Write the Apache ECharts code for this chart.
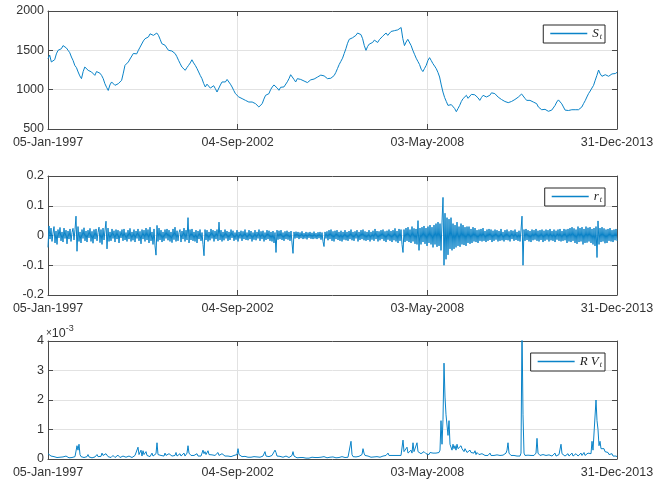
<!DOCTYPE html>
<html>
<head>
<meta charset="utf-8">
<script src="https://cdn.jsdelivr.net/npm/echarts@6/dist/echarts.min.js"></script>
<style>html,body{margin:0;padding:0;background:#fff;}#c{width:668px;height:483px;}</style>
</head>
<body>
<div id="c"></div>
<script>
// x axis: days since 05-Jan-1997 ; ticks every 2068 days
var xTickLabels = ['05-Jan-1997', '04-Sep-2002', '03-May-2008', '31-Dec-2013'];
var spanDays = 6204;

// S_t : price level, evenly spaced samples across the whole span
var priceVals = [
1394,1440,1352,1330,1381,1455,1500,1490,1521,1560,1551,1530,1500,1470,1415,1370,1309,1280,1225,1175,1140,1230,1288,1270,1246,1260,1225,1200,1182,1230,1254,1210,1182,1140,1076,1030,990,1060,1098,1080,
1055,1080,1076,1095,1119,1210,1309,1320,1352,1390,1415,1460,1479,1455,1500,1540,1564,1620,1648,1630,1670,1710,1725,1690,1670,1720,1691,1640,1585,1600,1564,1530,1500,1520,1492,1470,1458,1420,1373,1330,
1288,1270,1246,1280,1309,1340,1380,1340,1309,1270,1225,1180,1140,1080,1034,1070,1055,1020,1034,1050,1013,970,949,1060,1098,1075,1098,1130,1119,1070,1034,990,949,930,907,910,886,870,864,880,
843,860,843,835,822,800,780,800,822,880,928,920,949,1000,1034,1060,1076,1020,992,1030,1055,1035,1055,1100,1140,1190,1212,1130,1098,1140,1161,1130,1140,1110,1119,1090,1098,1125,1119,1135,
1140,1160,1170,1185,1195,1175,1161,1140,1127,1145,1155,1180,1220,1270,1320,1360,1400,1460,1520,1590,1640,1620,1660,1680,1690,1720,1745,1700,1648,1560,1500,1550,1580,1560,1600,1630,1620,1600,1635,1660,
1680,1700,1720,1690,1710,1740,1730,1750,1765,1760,1780,1790,1650,1560,1606,1640,1650,1560,1500,1450,1400,1360,1320,1260,1230,1270,1309,1370,1407,1370,1331,1300,1267,1220,1161,1060,970,900,850,800,
822,810,790,760,720,760,801,850,886,900,928,890,907,940,949,935,928,895,864,900,928,910,907,920,928,960,983,950,928,905,886,875,864,850,843,835,830,850,864,875,
886,905,928,945,958,890,864,875,864,850,843,830,822,780,759,745,738,750,738,725,716,740,759,800,843,870,864,820,780,740,716,735,759,745,738,745,759,745,738,780,
822,860,907,950,983,1020,1055,1120,1182,1250,1200,1170,1160,1190,1195,1170,1180,1200,1212,1205,1220
];

// r_t : log returns
var returnVals = [
-0.04,0.032,-0.012,0.025,-0.02,0.008,0.03,-0.025,0.015,-0.03,0.02,-0.008,0.027,-0.018,0.012,-0.022,0.025,-0.01,0.018,-0.028,
0.015,-0.012,0.022,-0.02,0.01,0.024,-0.015,0.02,0.065,-0.053,0.03,-0.02,0.012,-0.025,0.02,-0.01,0.026,-0.018,0.015,-0.022,
0.018,-0.008,0.024,-0.02,0.014,-0.026,0.02,-0.012,0.022,-0.018,0.01,0.028,-0.024,0.02,-0.03,0.025,-0.015,0.018,0.048,-0.045,
0.025,-0.02,0.012,-0.018,0.022,-0.01,0.016,-0.022,0.02,-0.012,0.018,-0.025,0.014,-0.008,0.02,-0.018,0.022,-0.015,0.01,-0.02,
0.018,-0.012,0.024,-0.02,0.012,-0.016,0.02,-0.022,0.015,-0.01,0.022,-0.018,0.014,-0.028,0.02,-0.012,0.018,-0.02,0.025,-0.015,
0.02,-0.025,0.028,-0.018,0.012,-0.03,0.022,-0.035,-0.066,0.034,-0.02,0.025,-0.015,0.018,-0.022,0.012,-0.018,0.02,-0.01,0.022,
-0.016,0.018,-0.02,0.012,-0.024,0.022,-0.014,0.028,-0.02,0.016,-0.018,0.01,0.02,-0.022,0.015,-0.012,0.025,-0.02,0.018,-0.015,
0.06,-0.025,0.02,-0.015,0.022,-0.018,0.012,-0.02,0.018,-0.025,0.015,-0.012,0.02,-0.018,0.01,-0.03,-0.068,0.02,-0.015,0.018,
-0.02,0.012,-0.016,0.022,-0.01,0.018,-0.02,0.015,-0.012,0.02,-0.018,0.045,-0.015,0.018,-0.02,0.012,-0.016,0.02,-0.01,0.015,
-0.018,0.012,-0.015,0.02,-0.008,0.016,-0.018,0.01,-0.014,0.018,-0.02,0.012,-0.01,0.016,-0.018,0.014,-0.012,0.02,-0.015,0.01,
-0.016,0.018,-0.012,0.015,-0.02,0.01,-0.014,0.018,-0.016,0.012,-0.01,0.02,-0.018,0.014,-0.012,0.016,-0.02,0.01,-0.015,0.018,
-0.012,0.016,-0.018,0.012,-0.02,0.015,-0.025,0.01,-0.057,0.018,-0.014,0.016,-0.012,0.018,-0.015,0.01,-0.018,0.014,-0.012,0.016,
-0.014,0.012,-0.018,0.015,-0.025,-0.06,0.012,-0.01,0.013,-0.008,0.012,-0.012,0.01,-0.009,0.014,-0.012,0.008,-0.01,0.012,-0.013,
0.01,-0.008,0.012,-0.011,0.009,-0.012,0.013,-0.01,0.008,-0.012,0.011,-0.009,0.012,-0.014,0.01,-0.02,-0.037,0.012,-0.01,0.014,
-0.016,0.018,-0.012,0.02,-0.018,0.014,-0.02,0.016,-0.012,0.018,-0.015,0.012,-0.018,0.016,-0.02,0.012,-0.014,0.018,-0.016,0.012,
-0.018,0.015,-0.012,0.02,-0.016,0.012,-0.018,0.014,-0.01,0.018,-0.02,0.012,-0.015,0.018,-0.012,0.02,-0.016,0.014,-0.018,0.012,
-0.015,0.018,-0.02,0.012,-0.014,0.016,-0.018,0.022,-0.012,0.015,-0.02,0.014,-0.016,0.018,-0.012,0.02,-0.018,0.014,-0.022,0.016,
-0.014,0.02,-0.018,0.015,-0.022,0.018,-0.016,0.024,-0.02,0.015,-0.025,0.022,-0.018,0.02,-0.03,-0.057,0.02,-0.022,0.025,-0.018,
0.028,-0.022,0.02,-0.025,0.03,-0.02,0.024,-0.028,0.022,-0.03,0.05,-0.05,0.025,-0.03,0.028,-0.022,0.032,-0.028,0.025,-0.035,
0.03,-0.025,0.035,-0.03,0.028,-0.04,0.035,-0.03,0.04,-0.038,0.045,-0.035,0.04,-0.05,0.045,0.128,-0.1,0.075,-0.08,0.06,
-0.065,0.055,-0.045,0.06,-0.05,0.04,-0.045,0.035,-0.04,0.045,-0.035,0.03,-0.038,0.04,-0.03,0.035,-0.032,0.028,-0.035,0.03,
-0.025,0.03,-0.028,0.022,-0.025,0.028,-0.02,0.025,-0.022,0.018,-0.025,0.02,-0.018,0.022,-0.02,0.025,-0.018,0.015,-0.022,0.02,
-0.018,0.022,-0.015,0.02,-0.022,0.016,-0.018,0.02,-0.014,0.018,-0.02,0.015,-0.018,0.022,-0.016,0.012,-0.02,0.018,-0.015,0.02,
-0.016,0.014,-0.02,0.018,-0.012,0.016,-0.018,0.02,-0.015,0.012,-0.018,0.016,-0.02,0.018,0.065,-0.1,0.02,-0.018,0.022,-0.015,
0.018,-0.02,0.015,-0.022,0.02,-0.016,0.018,-0.014,0.022,-0.018,0.016,-0.02,0.018,-0.015,0.02,-0.022,0.016,-0.018,0.02,-0.014,
0.018,-0.02,0.022,-0.016,0.015,-0.018,0.02,-0.022,0.016,-0.014,0.02,-0.018,0.022,-0.02,0.015,-0.018,0.022,-0.016,0.02,-0.025,
0.022,-0.02,0.025,-0.022,0.028,-0.018,0.024,-0.025,0.02,-0.028,0.03,-0.022,0.025,-0.02,0.028,-0.03,0.022,-0.025,0.03,-0.024,
0.026,-0.02,0.028,-0.025,0.022,-0.03,0.025,-0.035,0.03,-0.074,0.049,-0.03,0.025,-0.022,0.028,-0.02,0.024,-0.026,0.02,-0.025,
0.022,-0.018,0.025,-0.02,0.018,-0.022,0.02,-0.016,0.022,-0.018
];

// RV_t : realized variance, in units of 1e-3
var rvVals = [
0.18,0.12,0.2,0.1,0.15,0.06,0.08,0.04,0.07,0.05,0.09,0.04,0.06,0.08,0.05,0.07,0.04,0.06,0.1,0.05,
0.07,0.04,0.08,0.06,0.05,0.09,0.06,0.08,0.12,0.45,0.3,0.5,0.15,0.08,0.06,0.1,0.05,0.07,0.06,0.08,
0.15,0.07,0.05,0.08,0.04,0.06,0.05,0.07,0.06,0.15,0.08,0.06,0.05,0.09,0.2,0.12,0.15,0.1,0.18,0.12,
0.08,0.06,0.1,0.05,0.07,0.12,0.06,0.05,0.08,0.06,0.13,0.07,0.05,0.09,0.06,0.1,0.05,0.08,0.06,0.12,
0.07,0.1,0.06,0.08,0.05,0.09,0.07,0.12,0.08,0.1,0.4,0.15,0.12,0.3,0.1,0.28,0.15,0.1,0.25,0.12,
0.1,0.15,0.08,0.12,0.2,0.1,0.15,0.12,0.18,0.55,0.15,0.1,0.18,0.12,0.08,0.15,0.1,0.2,0.12,0.15,
0.1,0.18,0.12,0.2,0.1,0.15,0.08,0.12,0.22,0.1,0.15,0.12,0.18,0.1,0.14,0.12,0.2,0.1,0.15,0.2,
0.45,0.2,0.15,0.12,0.1,0.15,0.12,0.1,0.14,0.18,0.1,0.12,0.15,0.1,0.2,0.3,0.18,0.25,0.15,0.2,
0.28,0.15,0.12,0.2,0.14,0.1,0.18,0.12,0.15,0.1,0.22,0.12,0.15,0.1,0.18,0.12,0.2,0.1,0.14,0.12,
0.1,0.15,0.12,0.08,0.14,0.1,0.12,0.18,0.1,0.15,0.35,0.15,0.1,0.12,0.08,0.1,0.06,0.09,0.07,0.1,
0.06,0.08,0.12,0.06,0.1,0.05,0.08,0.06,0.1,0.07,0.05,0.09,0.06,0.08,0.05,0.1,0.06,0.25,0.1,0.07,
0.06,0.08,0.05,0.1,0.12,0.08,0.06,0.3,0.22,0.1,0.08,0.06,0.09,0.05,0.07,0.06,0.08,0.05,0.1,0.06,
0.08,0.05,0.07,0.1,0.12,0.25,0.1,0.06,0.05,0.04,0.06,0.03,0.05,0.04,0.03,0.05,0.04,0.06,0.03,0.05,
0.04,0.03,0.05,0.04,0.06,0.03,0.04,0.05,0.03,0.04,0.05,0.03,0.04,0.06,0.04,0.05,0.08,0.12,0.05,0.04,
0.05,0.04,0.06,0.05,0.04,0.07,0.05,0.06,0.04,0.05,0.07,0.05,0.06,0.04,0.08,0.05,0.06,0.05,0.07,0.05,
0.06,0.08,0.1,0.6,0.15,0.08,0.06,0.1,0.07,0.08,0.06,0.09,0.1,0.12,0.15,0.35,0.2,0.12,0.1,0.08,
0.1,0.07,0.09,0.06,0.08,0.1,0.07,0.09,0.06,0.08,0.1,0.07,0.06,0.09,0.08,0.1,0.07,0.09,0.12,0.08,
0.2,0.12,0.1,0.08,0.12,0.1,0.09,0.12,0.1,0.15,0.12,0.1,0.18,0.12,0.15,0.64,0.25,0.2,0.3,0.4,
0.2,0.25,0.18,0.3,0.2,0.55,0.25,0.22,0.3,0.55,0.25,0.2,0.3,0.18,0.22,0.15,0.25,0.2,0.18,0.22,
0.2,0.15,0.22,0.18,0.25,0.2,0.15,0.22,0.2,0.25,0.18,0.22,0.3,1.3,0.5,1.35,3.25,2.1,1.5,1.45,
0.8,1.3,0.5,0.45,0.3,0.5,0.35,0.45,0.3,0.5,0.35,0.4,0.3,0.45,0.35,0.3,0.25,0.35,0.3,0.22,
0.28,0.2,0.3,0.22,0.18,0.25,0.2,0.28,0.15,0.22,0.18,0.15,0.2,0.12,0.18,0.15,0.22,0.12,0.15,0.18,
0.12,0.15,0.2,0.12,0.1,0.15,0.12,0.18,0.1,0.14,0.12,0.2,0.12,0.15,0.1,0.13,0.18,0.12,0.2,0.3,
0.55,0.2,0.15,0.12,0.1,0.15,0.12,0.1,0.13,0.1,0.15,0.12,0.1,0.2,4.5,1.5,0.2,0.12,0.15,0.1,
0.13,0.1,0.15,0.12,0.1,0.14,0.12,0.15,0.2,0.7,0.2,0.15,0.12,0.18,0.1,0.15,0.12,0.2,0.12,0.15,
0.1,0.14,0.12,0.18,0.1,0.15,0.12,0.2,0.1,0.14,0.12,0.15,0.2,0.5,0.18,0.12,0.15,0.1,0.14,0.12,
0.18,0.1,0.15,0.12,0.2,0.1,0.15,0.12,0.18,0.14,0.1,0.16,0.12,0.2,0.12,0.15,0.22,0.12,0.18,0.15,
0.2,0.15,0.25,0.18,0.6,0.3,0.25,0.35,2.0,1.3,1.0,0.45,0.6,0.35,0.4,0.3,0.35,0.25,0.3,0.2,
0.22,0.15,0.2,0.12,0.18,0.1,0.15,0.12,0.1,0.08
];

var priceTicks = {min: 500, max: 2000, interval: 500};
var returnTicks = {min: -0.2, max: 0.2, interval: 0.1};
var rvTicks = {min: 0, max: 4, interval: 1};

function toSeries(vals) {
  var n = vals.length;
  return vals.map(function (v, i) { return [i * spanDays / (n - 1), v]; });
}

var LINE = '#0a83c8';
var AXC = '#4a4a4a';
var GRIDC = '#e2e2e2';
var FONT = 'Liberation Sans';
var tickInterval = spanDays / 3;

var grids = [
  {left: 48, right: 51, top: 11, height: 118},
  {left: 48, right: 51, top: 176, height: 119},
  {left: 48, right: 51, top: 341, height: 118}
];

var xAxes = [], yAxes = [];
var yRanges = [priceTicks, returnTicks, rvTicks];
for (var g = 0; g < 3; g++) {
  xAxes.push({
    type: 'value', gridIndex: g, min: 0, max: spanDays, interval: tickInterval, position: 'bottom',
    axisLine: {show: true, onZero: false, lineStyle: {color: AXC, width: 1}},
    axisTick: {show: true, inside: true, length: 5, lineStyle: {color: AXC}},
    splitLine: {show: true, lineStyle: {color: GRIDC, width: 1}},
    axisLabel: {
      show: true, margin: 7, color: '#333', fontSize: 12.5, fontFamily: FONT,
      formatter: function (v) { return xTickLabels[Math.round(v / tickInterval)] || ''; }
    }
  });
  xAxes.push({
    type: 'value', gridIndex: g, min: 0, max: spanDays, interval: tickInterval, position: 'top',
    axisLine: {show: true, onZero: false, lineStyle: {color: AXC, width: 1}},
    axisTick: {show: true, inside: true, length: 5, lineStyle: {color: AXC}},
    splitLine: {show: false}, axisLabel: {show: false}
  });
  var r = yRanges[g];
  yAxes.push({
    type: 'value', gridIndex: g, min: r.min, max: r.max, interval: r.interval, position: 'left',
    axisLine: {show: true, onZero: false, lineStyle: {color: AXC, width: 1}},
    axisTick: {show: true, inside: true, length: 5, lineStyle: {color: AXC}},
    splitLine: {show: true, lineStyle: {color: GRIDC, width: 1}},
    axisLabel: {
      show: true, margin: 4, color: '#333', fontSize: 12.5, fontFamily: FONT,
      formatter: function (v) { return String(Math.round(v * 1000) / 1000); }
    }
  });
  yAxes.push({
    type: 'value', gridIndex: g, min: r.min, max: r.max, interval: r.interval, position: 'right',
    axisLine: {show: true, onZero: false, lineStyle: {color: AXC, width: 1}},
    axisTick: {show: true, inside: true, length: 5, lineStyle: {color: AXC}},
    splitLine: {show: false}, axisLabel: {show: false}
  });
}

var legendRich = {
  i: {fontSize: 13, fontFamily: 'Liberation Serif', fontStyle: 'italic', color: '#222'},
  s: {fontSize: 8, fontFamily: 'Liberation Serif', fontStyle: 'italic', color: '#222', padding: [7, 0, 0, 1]}
};
function mkLegend(name, top, label) {
  return {
    data: [name], right: 63, top: top, orient: 'horizontal',
    icon: 'rect', itemWidth: 37, itemHeight: 1.6, itemGap: 5,
    padding: [2, 3, 2, 7], borderColor: '#262626', borderWidth: 1, backgroundColor: '#fff',
    selectedMode: false,
    itemStyle: {color: LINE, borderWidth: 0},
    formatter: function () { return label; },
    textStyle: {rich: legendRich, lineHeight: 13}
  };
}

var option = {
  animation: false,
  backgroundColor: '#fff',
  grid: grids,
  xAxis: xAxes,
  yAxis: yAxes,
  legend: [
    mkLegend('S_t', 25, '{i|S}{s|t}'),
    mkLegend('r_t', 188, '{i|r}{s|t}'),
    mkLegend('RV_t', 353, '{i|R V}{s|t}')
  ],
  graphic: [{
    type: 'text', left: 46, top: 324, silent: true,
    style: {
      text: '{x|\u00d7}{a|10}{b|-3}',
      rich: {
        x: {fontSize: 10, fontFamily: FONT, fill: '#333', padding: [4, 0, 0, 0]},
        a: {fontSize: 12.5, fontFamily: FONT, fill: '#333', padding: [4, 0, 0, 0]},
        b: {fontSize: 9, fontFamily: FONT, fill: '#333', padding: [0, 0, 6, 0]}
      }
    }
  }],
  series: [
    {name: 'S_t', type: 'line', xAxisIndex: 0, yAxisIndex: 0, data: toSeries(priceVals),
     showSymbol: false, symbol: 'none', lineStyle: {color: LINE, width: 1}, itemStyle: {color: LINE}},
    {name: 'r_t', type: 'line', xAxisIndex: 2, yAxisIndex: 2, data: toSeries(returnVals),
     showSymbol: false, symbol: 'none', lineStyle: {color: LINE, width: 1}, itemStyle: {color: LINE}},
    {name: 'RV_t', type: 'line', xAxisIndex: 4, yAxisIndex: 4, data: toSeries(rvVals),
     showSymbol: false, symbol: 'none', clip: true, lineStyle: {color: LINE, width: 1}, itemStyle: {color: LINE}}
  ]
};
var chart = echarts.init(document.getElementById('c'), null, {renderer: 'canvas'});
chart.setOption(option);
</script>
</body>
</html>
